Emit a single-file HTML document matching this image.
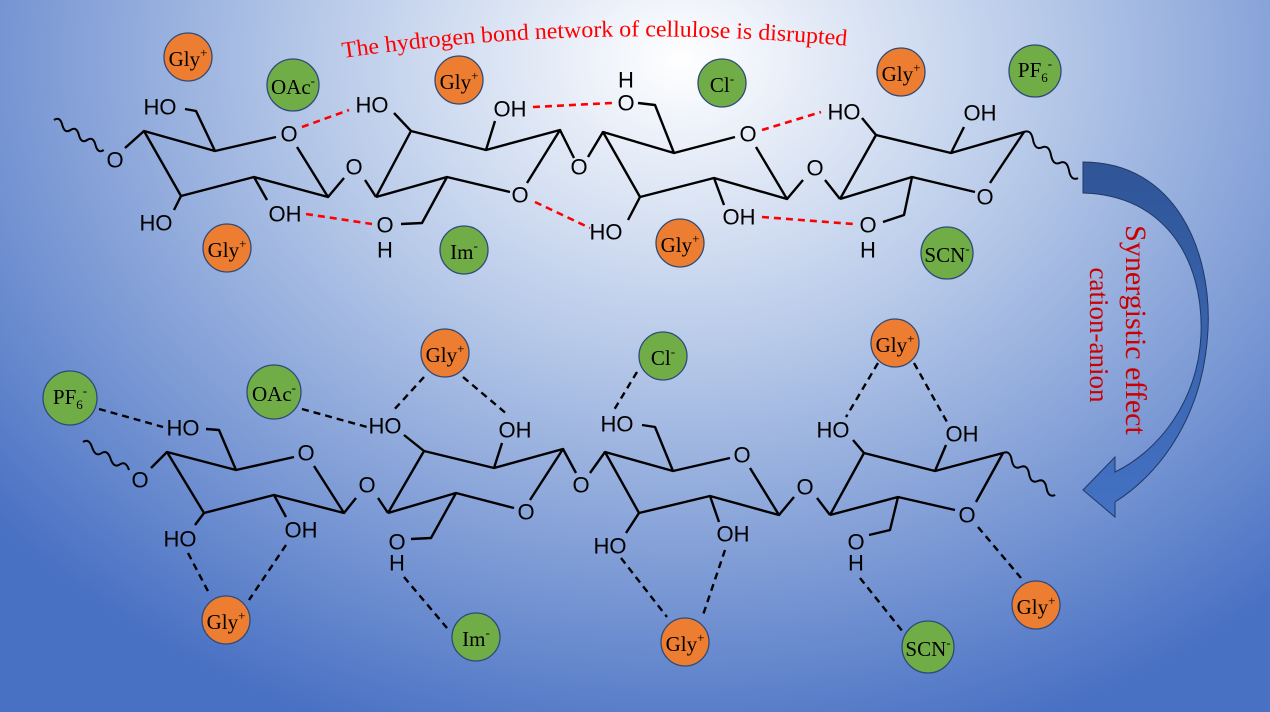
<!DOCTYPE html>
<html><head><meta charset="utf-8"><style>
html,body{margin:0;padding:0;width:1270px;height:712px;overflow:hidden}
svg{display:block}
.l{font-family:"Liberation Sans",sans-serif;font-size:22px;fill:#000;text-anchor:middle;dominant-baseline:central}
.c{font-family:"Liberation Serif",serif;font-size:21px;fill:#000;text-anchor:middle;dominant-baseline:central}
</style></head><body>
<svg width="1270" height="712" viewBox="0 0 1270 712" xmlns="http://www.w3.org/2000/svg">
<defs>
<radialGradient id="bg" cx="680" cy="60" r="900" gradientUnits="userSpaceOnUse" gradientTransform="translate(680 60) scale(1 0.8) translate(-680 -60)">
<stop offset="0" stop-color="#ffffff"/><stop offset="0.4" stop-color="#b8cae9"/><stop offset="1" stop-color="#4870c3"/>
</radialGradient>
<linearGradient id="ar" x1="0" y1="0" x2="0" y2="1"><stop offset="0" stop-color="#2f5597"/><stop offset="1" stop-color="#4472c4"/></linearGradient>
<path id="tp" d="M343,58 Q590,22 850,46"/>
</defs>
<rect width="1270" height="712" fill="url(#bg)"/>

<text font-family="Liberation Serif,serif" font-size="23" fill="#ff0000"><textPath href="#tp" textLength="505" lengthAdjust="spacingAndGlyphs">The hydrogen bond network of cellulose is disrupted</textPath></text>

<!-- arrow -->
<path d="M1083,162 C1175,162 1212,250 1208,330 C1204,410 1165,470 1115,502 L1115,517 L1083,490 L1115,457 L1115,472 C1160,450 1198,400 1201,335 C1204,260 1165,195 1083,193 Z" fill="url(#ar)" stroke="#1f3864" stroke-width="1"/>
<text transform="translate(1126,330) rotate(90)" font-family="Liberation Serif,serif" font-size="30" fill="#cc0000" text-anchor="middle">Synergistic effect</text>
<text transform="translate(1090,335) rotate(90)" font-family="Liberation Serif,serif" font-size="27" fill="#cc0000" text-anchor="middle">cation-anion</text>

<g fill="none" stroke="#000" stroke-width="2.4" stroke-linejoin="round">
<path d="M54,120 q6,-4 8.3,5 t8.3,5 t8.3,5 t8.3,5 t8.3,5 t8.3,5" stroke-width="2"/>
<path d="M1024,132 q7,-3 9,7.7 t9,7.7 t9,7.7 t9,7.7 t9,7.7 t9,7.7" stroke-width="2"/>
<path d="M83,442 q6,-4 9.2,5.6 t9.2,5.6 t9.2,5.6 t9.2,5.6 t9.2,5.6" stroke-width="2"/>
<path d="M1003,453 q7,-3 8.7,7 t8.7,7 t8.7,7 t8.7,7 t8.7,7 t8.7,7" stroke-width="2"/>
<polyline points="181,196 144,131 215,151 276,137"/><polyline points="297,147 328,197 254,177 181,196"/>
<line x1="144" y1="131" x2="125" y2="148"/><polyline points="215,151 196,111 185,109"/>
<line x1="181" y1="196" x2="174" y2="210"/><line x1="254" y1="177" x2="267" y2="200"/>
<line x1="328" y1="197" x2="344" y2="178"/><line x1="365" y1="180" x2="376" y2="197"/>
<polyline points="376,197 447,177 510,192"/><polyline points="527,183 560,130 486,150 411,131 376,197"/>
<line x1="411" y1="131" x2="394" y2="113"/><line x1="486" y1="150" x2="495" y2="121"/>
<polyline points="447,177 422,223 401,224"/><line x1="560" y1="130" x2="574" y2="158"/><line x1="588" y1="157" x2="603" y2="132"/>
<polyline points="640,197 603,132 674,153 735,137"/><polyline points="756,147 787,199 714,178 640,197"/>
<polyline points="674,153 655,105 638,103"/><line x1="640" y1="197" x2="628" y2="220"/><line x1="714" y1="178" x2="724" y2="205"/>
<line x1="787" y1="199" x2="803" y2="180"/><line x1="825" y1="180" x2="840" y2="199"/>
<polyline points="840,199 912,177 975,192"/><polyline points="990,183 1024,132 951,153 876,135 840,199"/>
<line x1="876" y1="135" x2="862" y2="118"/><line x1="951" y1="153" x2="964" y2="127"/><polyline points="912,177 904,215 883,222"/>
<polyline points="204,513 167,452 236,470 294,457"/><polyline points="314,466 344,513 274,495 204,513"/>
<line x1="167" y1="452" x2="151" y2="468"/><polyline points="236,470 219,430 206,429"/>
<line x1="204" y1="513" x2="195" y2="525"/><line x1="274" y1="495" x2="286" y2="517"/>
<line x1="344" y1="513" x2="356" y2="498"/><line x1="378" y1="498" x2="388" y2="513"/>
<polyline points="388,513 456,493 514,508"/><polyline points="530,500 563,449 494,468 424,451 388,513"/>
<line x1="424" y1="451" x2="404" y2="435"/><line x1="494" y1="468" x2="502" y2="443"/>
<polyline points="456,493 431,538 411,539"/><line x1="563" y1="449" x2="576" y2="473"/><line x1="590" y1="473" x2="605" y2="452"/>
<polyline points="639,513 605,452 673,471 730,458"/><polyline points="750,468 779,515 710,496 639,513"/>
<polyline points="673,471 655,427 642,425"/><line x1="639" y1="513" x2="626" y2="533"/><line x1="710" y1="496" x2="719" y2="522"/>
<line x1="779" y1="515" x2="794" y2="497"/><line x1="817" y1="498" x2="830" y2="515"/>
<polyline points="830,515 898,497 955,510"/><polyline points="976,502 1003,453 935,471 864,453 830,515"/>
<line x1="864" y1="453" x2="853" y2="440"/><line x1="935" y1="471" x2="946" y2="445"/><polyline points="898,497 890,530 869,535"/>
</g>

<g stroke="#ff0000" stroke-width="2.6" stroke-dasharray="7,5" fill="none">
<line x1="302" y1="127" x2="349" y2="110"/><line x1="533" y1="107" x2="612" y2="103"/>
<line x1="762" y1="130" x2="821" y2="112"/><line x1="306" y1="214" x2="372" y2="224"/>
<line x1="535" y1="202" x2="590" y2="228"/><line x1="762" y1="217" x2="853" y2="224"/>
</g>
<g stroke="#000" stroke-width="2.4" stroke-dasharray="7,5" fill="none">
<line x1="99" y1="409" x2="163" y2="427"/><line x1="302" y1="409" x2="367" y2="427"/>
<line x1="424" y1="377" x2="392" y2="412"/><line x1="463" y1="377" x2="508" y2="415"/>
<line x1="188" y1="553" x2="210" y2="595"/><line x1="286" y1="545" x2="249" y2="600"/>
<line x1="404" y1="577" x2="447" y2="628"/><line x1="637" y1="372" x2="614" y2="410"/>
<line x1="878" y1="363" x2="846" y2="417"/><line x1="914" y1="363" x2="947" y2="422"/>
<line x1="621" y1="558" x2="667" y2="617"/><line x1="725" y1="550" x2="703" y2="615"/>
<line x1="860" y1="578" x2="903" y2="632"/><line x1="978" y1="527" x2="1021" y2="578"/>
</g>

<g>
<text class="l" x="160" y="107">HO</text><text class="l" x="115" y="160">O</text><text class="l" x="156" y="223">HO</text>
<text class="l" x="285" y="214">OH</text><text class="l" x="289" y="134">O</text><text class="l" x="354" y="167">O</text>
<text class="l" x="372" y="105">HO</text><text class="l" x="510" y="109">OH</text><text class="l" x="385" y="225">O</text>
<text class="l" x="385" y="250">H</text><text class="l" x="520" y="195">O</text><text class="l" x="579" y="167">O</text>
<text class="l" x="626" y="103">O</text><text class="l" x="626" y="80">H</text><text class="l" x="606" y="232">HO</text>
<text class="l" x="739" y="217">OH</text><text class="l" x="748" y="134">O</text><text class="l" x="815" y="168">O</text>
<text class="l" x="844" y="112">HO</text><text class="l" x="980" y="113">OH</text><text class="l" x="868" y="225">O</text>
<text class="l" x="868" y="250">H</text><text class="l" x="985" y="197">O</text>
<text class="l" x="183" y="428">HO</text><text class="l" x="140" y="480">O</text><text class="l" x="180" y="539">HO</text>
<text class="l" x="301" y="530">OH</text><text class="l" x="306" y="453">O</text><text class="l" x="367" y="485">O</text>
<text class="l" x="385" y="426">HO</text><text class="l" x="515" y="430">OH</text><text class="l" x="397" y="542">O</text>
<text class="l" x="397" y="563">H</text><text class="l" x="526" y="512">O</text><text class="l" x="581" y="485">O</text>
<text class="l" x="617" y="424">HO</text><text class="l" x="610" y="546">HO</text><text class="l" x="733" y="534">OH</text>
<text class="l" x="742" y="455">O</text><text class="l" x="805" y="487">O</text>
<text class="l" x="833" y="430">HO</text><text class="l" x="962" y="434">OH</text><text class="l" x="856" y="542">O</text>
<text class="l" x="856" y="563">H</text><text class="l" x="967" y="515">O</text>
</g>

<g stroke="#2f4a7a" stroke-width="1.3">
<circle cx="188" cy="57" r="24" fill="#ed7d31"/><circle cx="293" cy="85" r="26" fill="#70ad47"/>
<circle cx="459" cy="80" r="24" fill="#ed7d31"/><circle cx="722" cy="83" r="24" fill="#70ad47"/>
<circle cx="901" cy="72" r="24" fill="#ed7d31"/><circle cx="1035" cy="71" r="26" fill="#70ad47"/>
<circle cx="227" cy="248" r="24" fill="#ed7d31"/><circle cx="464" cy="250" r="24" fill="#70ad47"/>
<circle cx="680" cy="243" r="24" fill="#ed7d31"/><circle cx="947" cy="253" r="26" fill="#70ad47"/>
<circle cx="70" cy="398" r="27" fill="#70ad47"/><circle cx="274" cy="392" r="27" fill="#70ad47"/>
<circle cx="445" cy="353" r="24" fill="#ed7d31"/><circle cx="226" cy="620" r="24" fill="#ed7d31"/>
<circle cx="476" cy="637" r="24" fill="#70ad47"/><circle cx="663" cy="356" r="24" fill="#70ad47"/>
<circle cx="895" cy="343" r="24" fill="#ed7d31"/><circle cx="685" cy="642" r="24" fill="#ed7d31"/>
<circle cx="928" cy="647" r="26" fill="#70ad47"/><circle cx="1036" cy="605" r="24" fill="#ed7d31"/>
</g>
<g>
<text class="c" x="188" y="59">Gly<tspan font-size="13" dy="-7">+</tspan></text>
<text class="c" x="293" y="87">OAc<tspan font-size="13" dy="-7">-</tspan></text>
<text class="c" x="459" y="82">Gly<tspan font-size="13" dy="-7">+</tspan></text>
<text class="c" x="722" y="85">Cl<tspan font-size="13" dy="-7">-</tspan></text>
<text class="c" x="901" y="74">Gly<tspan font-size="13" dy="-7">+</tspan></text>
<text class="c" x="1035" y="70">PF<tspan font-size="13" dy="7">6</tspan><tspan font-size="13" dy="-14">-</tspan></text>
<text class="c" x="227" y="250">Gly<tspan font-size="13" dy="-7">+</tspan></text>
<text class="c" x="464" y="252">Im<tspan font-size="13" dy="-7">-</tspan></text>
<text class="c" x="680" y="245">Gly<tspan font-size="13" dy="-7">+</tspan></text>
<text class="c" x="947" y="255">SCN<tspan font-size="13" dy="-7">-</tspan></text>
<text class="c" x="70" y="397">PF<tspan font-size="13" dy="7">6</tspan><tspan font-size="13" dy="-14">-</tspan></text>
<text class="c" x="274" y="394">OAc<tspan font-size="13" dy="-7">-</tspan></text>
<text class="c" x="445" y="355">Gly<tspan font-size="13" dy="-7">+</tspan></text>
<text class="c" x="226" y="622">Gly<tspan font-size="13" dy="-7">+</tspan></text>
<text class="c" x="476" y="639">Im<tspan font-size="13" dy="-7">-</tspan></text>
<text class="c" x="663" y="358">Cl<tspan font-size="13" dy="-7">-</tspan></text>
<text class="c" x="895" y="345">Gly<tspan font-size="13" dy="-7">+</tspan></text>
<text class="c" x="685" y="644">Gly<tspan font-size="13" dy="-7">+</tspan></text>
<text class="c" x="928" y="649">SCN<tspan font-size="13" dy="-7">-</tspan></text>
<text class="c" x="1036" y="607">Gly<tspan font-size="13" dy="-7">+</tspan></text>
</g>
</svg>
</body></html>
